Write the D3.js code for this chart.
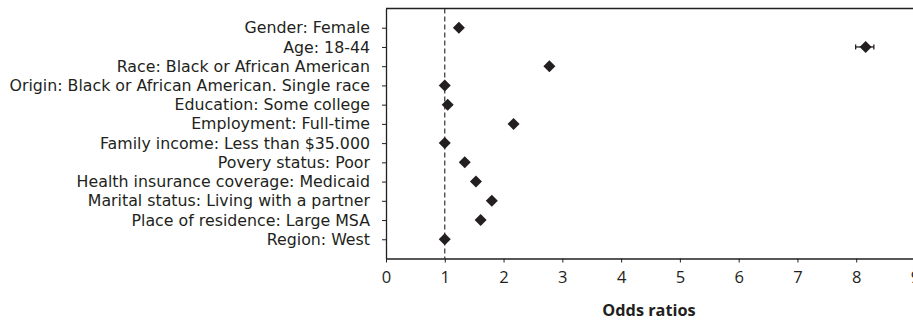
<!DOCTYPE html>
<html>
<head>
<meta charset="utf-8">
<script src="https://cdn.jsdelivr.net/npm/d3@7"></script>
<style>
  html, body { margin: 0; padding: 0; background: #fff; }
  svg { display: block; }
  text { font-family: "Open Sans", sans-serif; fill: #231f20; }
</style>
</head>
<body>
<svg id="chart" width="913" height="320"></svg>
<script>
const categories = [
  "Gender: Female",
  "Age: 18-44",
  "Race: Black or African American",
  "Origin: Black or African American. Single race",
  "Education: Some college",
  "Employment: Full-time",
  "Family income: Less than $35.000",
  "Povery status: Poor",
  "Health insurance coverage: Medicaid",
  "Marital status: Living with a partner",
  "Place of residence: Large MSA",
  "Region: West"
];
const oddsRatios = [1.24, 8.16, 2.78, 1.0, 1.05, 2.17, 1.0, 1.34, 1.53, 1.80, 1.61, 1.0];
const ciLower   = [null, 7.99, null, null, null, null, null, null, null, null, null, null];
const ciUpper   = [null, 8.30, null, null, null, null, null, null, null, null, null, null];
const xTicks = [0, 1, 2, 3, 4, 5, 6, 7, 8, 9];
const referenceValue = 1;
const xTitle = "Odds ratios";

const svg = d3.select("#chart");
const mLeft = 386, mRight = 915, mTop = 8.5, mBottom = 258.5;
const ink = "#231f20";
const fontFam = "Open Sans, sans-serif";
const labelFam = "DejaVu Sans, sans-serif";

const x = d3.scaleLinear().domain([0, 9]).range([mLeft, mRight]);
const y = d3.scalePoint().domain(categories).range([mTop, mBottom]).padding(1);

// top border
svg.append("line")
  .attr("x1", mLeft).attr("x2", mRight)
  .attr("y1", mTop).attr("y2", mTop)
  .attr("stroke", ink).attr("stroke-width", 1.3);

// x axis
const xAxis = svg.append("g")
  .attr("transform", `translate(0,${mBottom})`)
  .call(d3.axisBottom(x).tickValues(xTicks).tickSize(4).tickSizeOuter(0).tickPadding(9));
xAxis.select(".domain").attr("stroke", ink).attr("stroke-width", 1.3);
xAxis.selectAll(".tick line").attr("stroke", ink);
xAxis.selectAll(".tick text").style("font-size", "16.5px").style("font-family", fontFam).attr("fill", ink);

// y axis
const yAxis = svg.append("g")
  .attr("transform", `translate(${mLeft},0)`)
  .call(d3.axisLeft(y).tickSize(4).tickSizeOuter(0).tickPadding(12));
yAxis.select(".domain").attr("stroke", ink).attr("stroke-width", 1.3);
yAxis.selectAll(".tick line").attr("stroke", ink);
yAxis.selectAll(".tick text").style("font-size", "15.8px").style("font-family", labelFam).attr("fill", ink);

// reference line
svg.append("line")
  .attr("x1", x(referenceValue)).attr("x2", x(referenceValue))
  .attr("y1", mTop).attr("y2", mBottom)
  .attr("stroke", ink).attr("stroke-width", 1.1)
  .attr("stroke-dasharray", "5,3");

// error bars
const rows = categories.map((c, i) => ({c, v: oddsRatios[i], lo: ciLower[i], hi: ciUpper[i]}));
const eb = svg.append("g").selectAll("g").data(rows.filter(d => d.lo != null)).join("g");
eb.append("line")
  .attr("x1", d => x(d.lo)).attr("x2", d => x(d.hi))
  .attr("y1", d => y(d.c)).attr("y2", d => y(d.c))
  .attr("stroke", ink).attr("stroke-width", 1.3);
eb.append("line")
  .attr("x1", d => x(d.lo)).attr("x2", d => x(d.lo))
  .attr("y1", d => y(d.c) - 2.5).attr("y2", d => y(d.c) + 2.5)
  .attr("stroke", ink).attr("stroke-width", 1.3);
eb.append("line")
  .attr("x1", d => x(d.hi)).attr("x2", d => x(d.hi))
  .attr("y1", d => y(d.c) - 2.5).attr("y2", d => y(d.c) + 2.5)
  .attr("stroke", ink).attr("stroke-width", 1.3);

// diamonds
svg.append("g").selectAll("path").data(rows).join("path")
  .attr("transform", d => `translate(${x(d.v)},${y(d.c)})`)
  .attr("d", "M0,-6L6,0L0,6L-6,0Z")
  .attr("fill", ink);

// x title
svg.append("text")
  .attr("x", (mLeft + 912) / 2).attr("y", 316)
  .attr("text-anchor", "middle")
  .style("font-size", "16.3px").style("font-weight", "bold")
  .text(xTitle);
</script>
</body>
</html>
